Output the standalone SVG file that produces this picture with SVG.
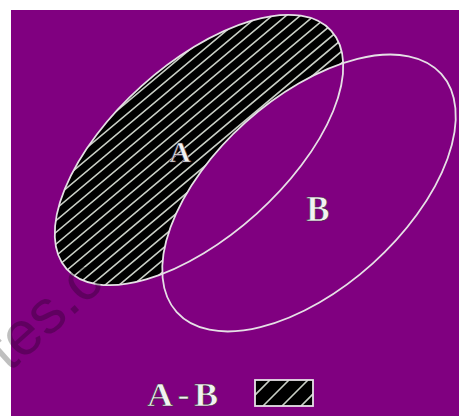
<svg xmlns="http://www.w3.org/2000/svg" width="459" height="416" viewBox="0 0 459 416">
<defs>
<clipPath id="clipA">
<ellipse cx="199" cy="150" rx="178" ry="86" transform="rotate(-42 199 150)"/>
</clipPath>
<clipPath id="clipLegend">
<rect x="255" y="380" width="58" height="26"/>
</clipPath>
</defs>
<style>
.outline{fill:none;stroke:#e6e0e6;stroke-width:1.8}
.hatch{fill:none;stroke:#c9cfc6;stroke-width:1.6}
.lbl{font-family:"Liberation Serif","Times New Roman",serif;font-weight:bold;fill:#f2f2f2;stroke:#3a2a3a;stroke-width:0.6}
</style>
<rect width="459" height="416" fill="#fff"/>
<rect x="11" y="10" width="448" height="406" fill="#800080"/>
<g id="setA-fill" clip-path="url(#clipA)">
<rect x="0" y="0" width="400" height="320" fill="#000"/>
<path class="hatch" d="M0,150 l400,-335.6 M0,161.75 l400,-335.6 M0,173.5 l400,-335.6 M0,185.25 l400,-335.6 M0,197 l400,-335.6 M0,208.75 l400,-335.6 M0,220.5 l400,-335.6 M0,232.25 l400,-335.6 M0,244 l400,-335.6 M0,255.75 l400,-335.6 M0,267.5 l400,-335.6 M0,279.25 l400,-335.6 M0,291 l400,-335.6 M0,302.75 l400,-335.6 M0,314.5 l400,-335.6 M0,326.25 l400,-335.6 M0,338 l400,-335.6 M0,349.75 l400,-335.6 M0,361.5 l400,-335.6 M0,373.25 l400,-335.6 M0,385 l400,-335.6 M0,396.75 l400,-335.6 M0,408.5 l400,-335.6 M0,420.25 l400,-335.6 M0,432 l400,-335.6 M0,443.75 l400,-335.6 M0,455.5 l400,-335.6 M0,467.25 l400,-335.6 M0,479 l400,-335.6 M0,490.75 l400,-335.6 M0,502.5 l400,-335.6"/>
</g>
<g id="setB-fill">
<ellipse cx="309" cy="193" rx="178" ry="95" transform="rotate(-42 309 193)" fill="#800080"/>
</g>
<g id="connectors"></g>
<g id="setA">
<ellipse class="outline" cx="199" cy="150" rx="178" ry="86" transform="rotate(-42 199 150)"/>
<text class="lbl" x="180" y="162" font-size="30" text-anchor="middle">A</text>
</g>
<g id="setB">
<ellipse class="outline" cx="309" cy="193" rx="178" ry="95" transform="rotate(-42 309 193)"/>
<text class="lbl" x="318" y="221" font-size="35" text-anchor="middle">B</text>
</g>
<g id="legend">
<text class="lbl" transform="translate(147 406) scale(1.1 1)" font-size="33" letter-spacing="4">A-B</text>
<g clip-path="url(#clipLegend)">
<rect x="255" y="380" width="58" height="26" fill="#000"/>
<path class="hatch" d="M244,406 L270,380 M263,406 L289,380 M282,406 L308,380 M301,406 L327,380"/>
</g>
<rect x="255" y="380" width="58" height="26" class="outline"/>
</g>
<g id="watermark" transform="translate(25 337) rotate(-42)">
<text x="-36" y="16" font-family="Liberation Sans, Arial, sans-serif" font-size="62" fill="#000" fill-opacity="0.25">tes.c</text>
</g>
</svg>
